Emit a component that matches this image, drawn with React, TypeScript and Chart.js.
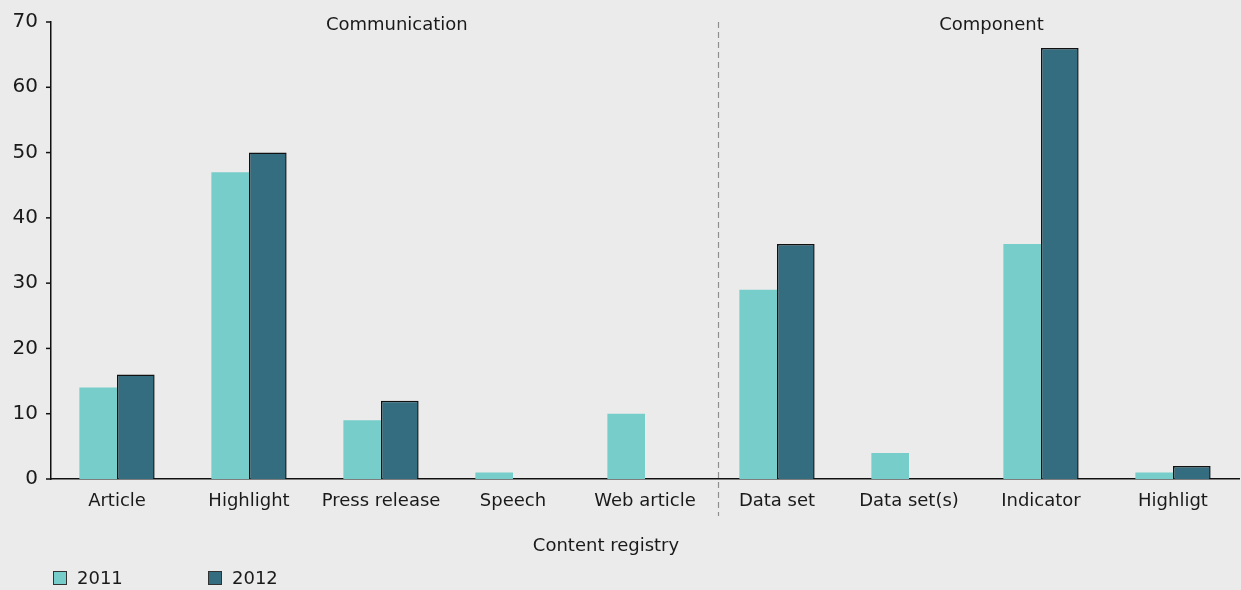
import React, { useEffect, useRef } from "react";
import { Chart, registerables } from "chart.js";

Chart.register(...registerables);

const categories = ["Article", "Highlight", "Press release", "Speech", "Web article", "Data set", "Data set(s)", "Indicator", "Highligt"];
const series2011 = [14, 47, 9, 1, 10, 29, 4, 36, 1];
const series2012 = [16, 50, 12, 0, 0, 36, 0, 66, 2];
const seriesLabels = ["2011", "2012"];
const groupLabels = ["Communication", "Component"];
const axisTitle = "Content registry";
const yTicks = [0, 10, 20, 30, 40, 50, 60, 70];

const FONT = "'DejaVu Sans', Verdana, sans-serif";
const TEXT = "#1a1a1a";
const C2011 = "#76cdca";
const C2012 = "#346c80";

const overlay = {
  id: "overlay",
  afterDraw(chart: any) {
    const ctx = chart.ctx;
    const x = chart.scales.x;
    const area = chart.chartArea;
    ctx.save();
    // dashed separator
    const sx = Math.round(x.getPixelForValue(4.55)) + 0.5;
    ctx.strokeStyle = "#8f8f8f";
    ctx.lineWidth = 1.2;
    ctx.setLineDash([6, 4]);
    ctx.beginPath();
    ctx.moveTo(sx, area.top);
    ctx.lineTo(sx, area.bottom + 37);
    ctx.stroke();
    ctx.setLineDash([]);
    // y tick marks
    const y = chart.scales.y;
    ctx.strokeStyle = "#111";
    ctx.lineWidth = 1.5;
    yTicks.forEach((v) => {
      const py = y.getPixelForValue(v);
      ctx.beginPath();
      ctx.moveTo(area.left - 5, py);
      ctx.lineTo(area.left, py);
      ctx.stroke();
    });
    // group labels
    ctx.font = `18px ${FONT}`;
    ctx.fillStyle = TEXT;
    ctx.textAlign = "center";
    ctx.textBaseline = "middle";
    ctx.fillText(groupLabels[0], x.getPixelForValue(2.12), area.top + 3);
    ctx.fillText(groupLabels[1], x.getPixelForValue(6.625), area.top + 3);
    // axis title
    ctx.fillText(axisTitle, 606, 546);
    // legend
    const colors = [C2011, C2012];
    const xs = [53, 208];
    ctx.textAlign = "left";
    seriesLabels.forEach((lab, i) => {
      ctx.fillStyle = colors[i];
      ctx.fillRect(xs[i], 571, 14, 14);
      ctx.strokeStyle = "#333";
      ctx.lineWidth = 1;
      ctx.strokeRect(xs[i] + 0.5, 571.5, 13, 13);
      ctx.fillStyle = TEXT;
      ctx.fillText(lab, xs[i] + 24, 579);
    });
    ctx.restore();
  },
};

export default function App() {
  const ref = useRef<HTMLCanvasElement>(null);
  useEffect(() => {
    document.body.style.margin = "0";
    document.body.style.background = "#ebebeb";
    const chart = new Chart(ref.current!, {
      type: "bar",
      data: {
        labels: categories,
        datasets: [
          { label: seriesLabels[0], data: series2011, backgroundColor: C2011, borderWidth: 0 },
          { label: seriesLabels[1], data: series2012, backgroundColor: C2012, borderColor: "#111", borderWidth: 1.5 },
        ],
      },
      options: {
        responsive: false,
        animation: false,
        layout: { padding: { top: 22, right: 2, left: 0, bottom: 0 } },
        plugins: { legend: { display: false }, tooltip: { enabled: false } },
        datasets: { bar: { categoryPercentage: 0.57, barPercentage: 1 } },
        scales: {
          x: {
            grid: { display: false, drawTicks: false, tickLength: 0 },
            border: { display: true, color: "#111", width: 1.5 },
            ticks: { color: TEXT, font: { family: FONT, size: 18 }, padding: 12, maxRotation: 0, autoSkip: false },
            afterFit: (s: any) => { s.height = 111; s.paddingLeft = 0; s.paddingRight = 0; },
          },
          y: {
            min: 0,
            max: 70,
            afterBuildTicks: (s: any) => { s.ticks = yTicks.map((v) => ({ value: v })); },
            grid: { display: false, drawTicks: false, tickLength: 0 },
            border: { display: true, color: "#111", width: 1.5 },
            ticks: { color: TEXT, font: { family: FONT, size: 20 }, padding: 13 },
            afterFit: (s: any) => { s.width = 51; s.paddingTop = 0; s.paddingBottom = 0; },
          },
        },
      },
      plugins: [overlay],
    });
    return () => chart.destroy();
  }, []);
  return (
    <div style={{ width: 1241, height: 590, background: "#ebebeb" }}>
      <canvas ref={ref} width={1241} height={590} />
    </div>
  );
}
